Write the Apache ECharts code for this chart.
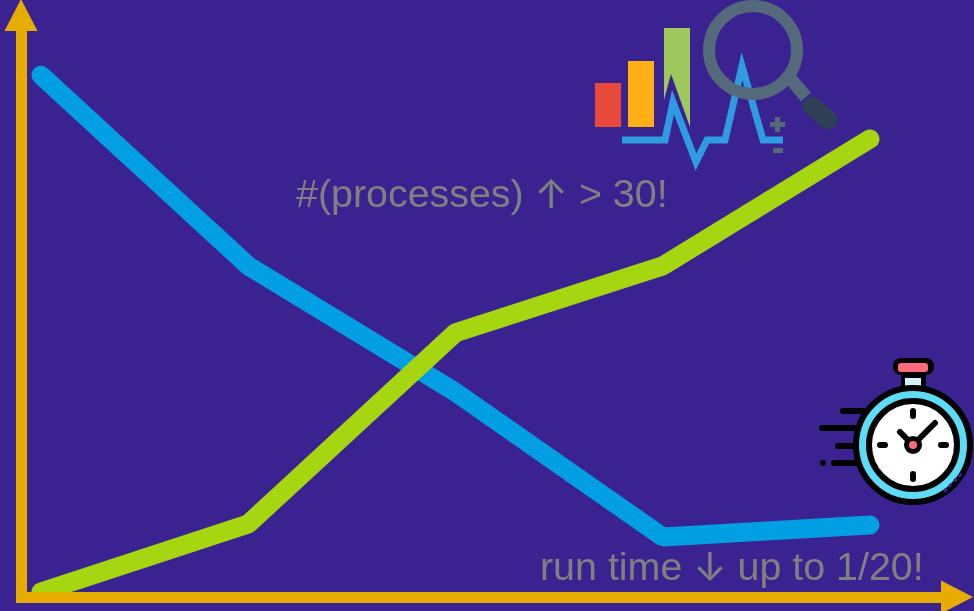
<!DOCTYPE html>
<html><head><meta charset="utf-8">
<style>html,body{margin:0;padding:0;background:#3A2391;overflow:hidden}#c{width:974px;height:611px}</style>
<script src="https://cdn.jsdelivr.net/npm/echarts@6/dist/echarts.min.js"></script>
</head><body><div id="c"></div>
<script>
const steps = ['1','2','3','4','5'];
const runTime = [95.7, 60.4, 37.0, 10.2, 12.4];
const processes = [0, 12.6, 48.0, 60.4, 83.9];
const noteTop = '#(processes) {a|↑} > 30!';
const noteBottom = 'run time {a|↓} up to 1/20!';

const BG = '#3A2391', AXIS = '#E8AB00', NOTE = '#808080';
const line = (pts, stroke, lineWidth, extra) => ({type:'polyline', shape:{points:pts},
  style:Object.assign({stroke, lineWidth, fill:null, lineCap:'round', lineJoin:'miter', miterLimit:30}, extra||{})});
const circle = (cx,cy,r,style) => ({type:'circle', shape:{cx,cy,r}, style});
const rect = (x,y,width,height,fill,r) => ({type:'rect', shape:{x,y,width,height,r:r||0}, style:{fill}});
const poly = (pts,fill) => ({type:'polygon', shape:{points:pts}, style:{fill}});

const chartIcon = [
  rect(595,83,26,44,'#E8493A'),
  rect(628,61,26,66,'#FFB015'),
  poly([[664,28],[690,28],[690,127],[671,74],[664,100]],'#9DC85C'),
  line([[622,140],[665,140],[673,102],[696,162],[707,140],[725,140],[742,66],[763,140],[783,140]],'#2F9BE0',7,{lineCap:'butt'}),
  circle(753,50,44,{fill:null,stroke:'#546A7B',lineWidth:12}),
  line([[789,77],[806,97]],'#546A7B',13,{lineCap:'butt'}),
  line([[812,106],[828,120]],'#2D4055',19),
  rect(770,122,15,5,'#546A7B'),
  rect(775,117,5,15,'#546A7B'),
  rect(773,148,10,5,'#546A7B')
];
const K = '#000';
const watchIcon = [
  line([[843,411],[870,411]],K,6),
  line([[822,428],[858,428]],K,6),
  line([[838,446],[858,446]],K,6),
  line([[834,463],[858,463]],K,6),
  circle(823,463,3,{fill:K}),
  rect(893,358,41,17,K,8),
  rect(898,363,30,9,'#FF6B7A',3),
  rect(901,375,25,16,K),
  rect(905,378,16,9,'#CFF3F6'),
  circle(913,445,57,{fill:'#5CDDF5',stroke:K,lineWidth:6}),
  circle(913,445,44,{fill:'#fff',stroke:K,lineWidth:6}),
  line([[913,411],[913,416]],K,6),
  line([[913,474],[913,479]],K,6),
  line([[880,445],[885,445]],K,6),
  line([[941,445],[946,445]],K,6),
  line([[900,432],[913,445],[935,423]],K,6,{lineJoin:'round'}),
  circle(913,445,9,{fill:K}),
  circle(913,445,4,{fill:'#FF6B7A'}),
  line([[945,491],[961,474]],BG,3,{lineDash:[2,5]}),
  circle(954,485,2.5,{fill:K})
];
const noteStyle = (text) => ({text, fill:NOTE, font:'39.4px "Liberation Sans"', verticalAlign:'middle',
  rich:{a:{fill:NOTE, font:'40px "Inter"'}}});
const notes = [
  {type:'text', x:296, y:196, style:noteStyle(noteTop)},
  {type:'text', x:540, y:569, style:noteStyle(noteBottom)}
];

const hiddenAxis = (extra) => Object.assign({show:false}, extra);
const arrowAxis = (extra) => Object.assign({
  min:0, max:1, type:'value', z:6, splitLine:{show:false}, axisTick:{show:false}, axisLabel:{show:false},
  axisLine:{show:true, onZero:false, symbol:['none','triangle'], symbolSize:[33,32], symbolOffset:[0,15],
    lineStyle:{color:AXIS,width:11,cap:'butt'}}
}, extra);

const chart = echarts.init(document.getElementById('c'), null, {renderer:'canvas'});
chart.setOption({
  animation:false,
  backgroundColor:BG,
  grid:[
    {left:41, right:104, top:52, bottom:19},
    {left:21, right:32, top:30, bottom:14},
    {left:16, right:32, top:30, bottom:14}
  ],
  xAxis:[
    hiddenAxis({type:'category', data:steps, boundaryGap:false, gridIndex:0}),
    hiddenAxis({type:'value', min:0, max:1, gridIndex:1}),
    arrowAxis({gridIndex:2, position:'bottom'})
  ],
  yAxis:[
    hiddenAxis({type:'value', min:0, max:100, gridIndex:0}),
    arrowAxis({gridIndex:1, position:'left'}),
    hiddenAxis({type:'value', min:0, max:1, gridIndex:2})
  ],
  series:[
    {type:'line', data:runTime, showSymbol:false, clip:false, z:2, xAxisIndex:0, yAxisIndex:0,
     lineStyle:{color:'#009FE3', width:19, cap:'round', join:'bevel'}},
    {type:'line', data:processes, showSymbol:false, clip:false, z:3, xAxisIndex:0, yAxisIndex:0,
     lineStyle:{color:'#A6D610', width:19, cap:'round', join:'bevel'}}
  ],
  graphic:[].concat(chartIcon, watchIcon, notes)
});
</script></body></html>
